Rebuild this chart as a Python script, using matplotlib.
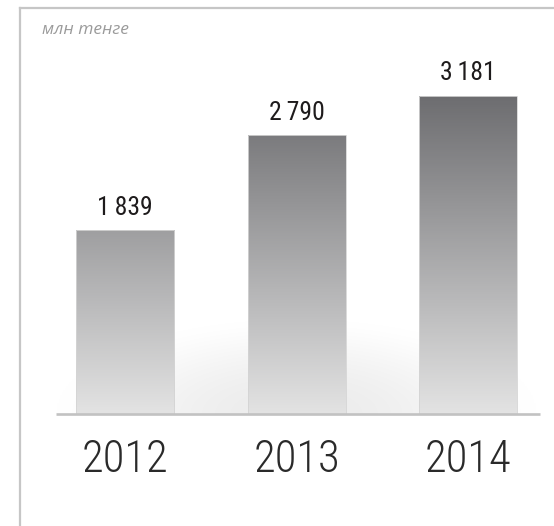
import numpy as np
import matplotlib
matplotlib.use("Agg")
import matplotlib.pyplot as plt
from matplotlib import font_manager as fm
from matplotlib.colors import LinearSegmentedColormap, Normalize
from matplotlib.lines import Line2D

# ---- data ----
years = ["2012", "2013", "2014"]
values = [1839, 2790, 3181]
value_labels = ["1\u2009839", "2\u2009790", "3\u2009181"]
unit_label = "млн тенге"

# ---- fonts ----
_names = {f.name for f in fm.fontManager.ttflist}
def pick(cands):
    for c in cands:
        if c in _names:
            return c
    return "DejaVu Sans"

narrow = pick(["Roboto Condensed", "Liberation Sans Narrow", "DejaVu Sans"])
italic_family = [pick(["Open Sans", "Noto Sans", "DejaVu Sans"]), "DejaVu Sans"]

W, H = 554, 526
fig = plt.figure(figsize=(W / 100, H / 100), dpi=100)
fig.patch.set_facecolor("white")
ax = fig.add_axes([0, 0, 1, 1])
ax.set_axis_off()

px_per_cat = 171.5
x0_px = 125.0
base_px = 414.0
units_per_px = 10.0
ax.set_xlim(-x0_px / px_per_cat, (W - x0_px) / px_per_cat)
ax.set_ylim(-(H - base_px) * units_per_px, base_px * units_per_px)

x = np.arange(len(values))
bar_w = 98 / px_per_cat

# soft glow behind bars
gx = np.linspace(-0.75, 2.75, 400)
gy = np.linspace(0, 1200, 120)
GX, GY = np.meshgrid(gx, gy)
rx = 240 / px_per_cat
ry = 95 * units_per_px
r2 = ((GX - 1.0) / rx) ** 2 + (GY / ry) ** 2
f = np.clip(1 - r2, 0, 1) ** 1.4
g = (255 - 19 * f) / 255.0
img = np.dstack([g, g, g])
ax.imshow(img, extent=[gx[0], gx[-1], 0, 1200], origin="lower",
          aspect="auto", zorder=0, interpolation="bilinear")

# gradient bars (gradient in absolute value coordinates)
cmap = LinearSegmentedColormap.from_list("g", ["#e3e3e3", "#6d6d70"])
norm = Normalize(vmin=0, vmax=3181)
bars = ax.bar(x, values, width=bar_w, facecolor="none",
              edgecolor="#d4d4d4", linewidth=0.6, zorder=3)
for b, v in zip(bars, values):
    grad = np.linspace(0, v, 300).reshape(-1, 1)
    im = ax.imshow(grad, cmap=cmap, norm=norm, origin="lower", aspect="auto",
                   extent=[b.get_x(), b.get_x() + b.get_width(), 0, v],
                   zorder=2, interpolation="bilinear")
    im.set_clip_path(b)

# baseline
ax.plot([(56 - x0_px) / px_per_cat, (540 - x0_px) / px_per_cat], [0, 0],
        color="#c2c2c2", linewidth=1.9, solid_capstyle="butt", zorder=4)

# value labels
for xi, v, lab in zip(x, values, value_labels):
    ax.text(xi, v + 155, lab, ha="center", va="baseline",
            fontsize=18.5, family=[narrow, "DejaVu Sans"], fontweight="normal",
            color="#1e1b1c", zorder=5)

# year labels
for xi, yr in zip(x, years):
    ax.text(xi, -580, yr, ha="center", va="baseline",
            fontsize=32, family=narrow, fontweight="light", color="#2a2a2a", zorder=5)

# unit label
fig.text(42 / W, 1 - 34 / H, unit_label, ha="left", va="baseline",
         fontsize=12.5, family=italic_family, style="italic", color="#9a9a9a")

# frame lines (top and left)
fig.add_artist(Line2D([20 / W, 1], [1 - 8.3 / H, 1 - 8.3 / H],
                      transform=fig.transFigure, color="#c6c6c6", linewidth=1.6))
fig.add_artist(Line2D([19.5 / W, 19.5 / W], [0, 1 - 8.3 / H],
                      transform=fig.transFigure, color="#c6c6c6", linewidth=1.6))

fig.savefig("out.png", dpi=100, facecolor="white")
